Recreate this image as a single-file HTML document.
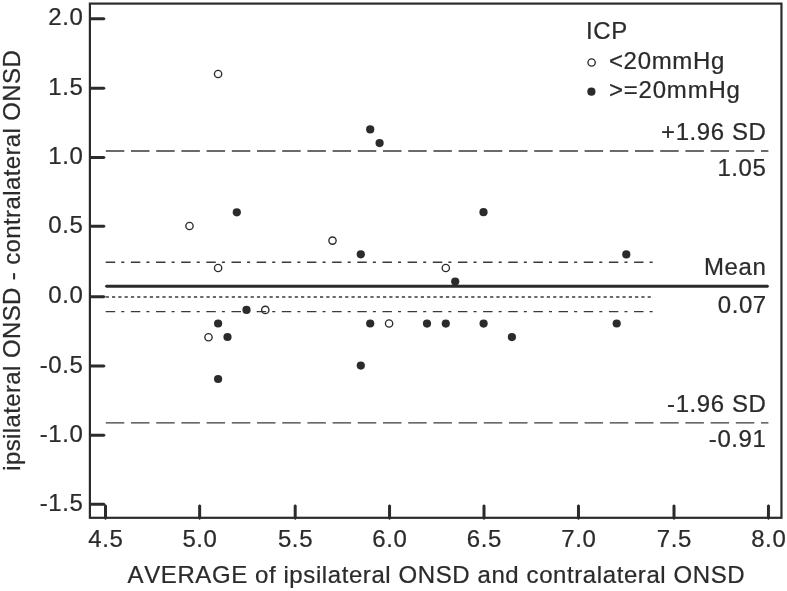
<!DOCTYPE html>
<html lang="en"><head><meta charset="utf-8"><title>Bland-Altman plot</title>
<style>html,body{margin:0;padding:0;background:#fff}body{width:787px;height:591px;overflow:hidden}svg{display:block}text{font-family:"Liberation Sans",Arial,sans-serif;font-size:25px;fill:#2b2b2b;font-kerning:none;letter-spacing:0.62px;stroke:#2b2b2b;stroke-width:0.25px}svg{filter:blur(0.45px)}</style></head><body>
<svg width="787" height="591" viewBox="0 0 787 591">
<rect x="0" y="0" width="787" height="591" fill="#fff"/>
<rect x="89.90" y="3.60" width="691.55" height="514.20" fill="none" stroke="#2b2b2b" stroke-width="2.2"/>
<polygon points="89.90,17.33 104.20,17.33 105.70,18.83 104.20,20.33 89.90,20.33" fill="#2b2b2b"/>
<text transform="translate(83.40 25.33) scale(0.96 0.975)" text-anchor="end">2.0</text>
<polygon points="89.90,86.66 104.20,86.66 105.70,88.16 104.20,89.66 89.90,89.66" fill="#2b2b2b"/>
<text transform="translate(83.40 94.66) scale(0.96 0.975)" text-anchor="end">1.5</text>
<polygon points="89.90,155.94 104.20,155.94 105.70,157.44 104.20,158.94 89.90,158.94" fill="#2b2b2b"/>
<text transform="translate(83.40 163.94) scale(0.96 0.975)" text-anchor="end">1.0</text>
<polygon points="89.90,224.86 104.20,224.86 105.70,226.36 104.20,227.86 89.90,227.86" fill="#2b2b2b"/>
<text transform="translate(83.40 232.86) scale(0.96 0.975)" text-anchor="end">0.5</text>
<polygon points="89.90,295.36 104.20,295.36 105.70,296.86 104.20,298.36 89.90,298.36" fill="#2b2b2b"/>
<text transform="translate(83.40 303.36) scale(0.96 0.975)" text-anchor="end">0.0</text>
<polygon points="89.90,364.59 104.20,364.59 105.70,366.09 104.20,367.59 89.90,367.59" fill="#2b2b2b"/>
<text transform="translate(83.40 372.59) scale(0.96 0.975)" text-anchor="end">-0.5</text>
<polygon points="89.90,433.81 104.20,433.81 105.70,435.31 104.20,436.81 89.90,436.81" fill="#2b2b2b"/>
<text transform="translate(83.40 441.81) scale(0.96 0.975)" text-anchor="end">-1.0</text>
<polygon points="89.90,502.74 104.20,502.74 105.70,504.24 104.20,505.74 89.90,505.74" fill="#2b2b2b"/>
<text transform="translate(83.40 510.74) scale(0.96 0.975)" text-anchor="end">-1.5</text>
<polygon points="104.00,518.60 104.00,505.60 105.50,504.20 107.00,505.60 107.00,518.60 105.50,519.90" fill="#2b2b2b"/>
<text transform="translate(105.80 547.20) scale(0.96 0.975)" text-anchor="middle">4.5</text>
<polygon points="198.15,518.60 198.15,505.60 199.65,504.20 201.15,505.60 201.15,518.60 199.65,519.90" fill="#2b2b2b"/>
<text transform="translate(199.95 547.20) scale(0.96 0.975)" text-anchor="middle">5.0</text>
<polygon points="293.70,518.60 293.70,505.60 295.20,504.20 296.70,505.60 296.70,518.60 295.20,519.90" fill="#2b2b2b"/>
<text transform="translate(295.50 547.20) scale(0.96 0.975)" text-anchor="middle">5.5</text>
<polygon points="388.05,518.60 388.05,505.60 389.55,504.20 391.05,505.60 391.05,518.60 389.55,519.90" fill="#2b2b2b"/>
<text transform="translate(389.85 547.20) scale(0.96 0.975)" text-anchor="middle">6.0</text>
<polygon points="482.50,518.60 482.50,505.60 484.00,504.20 485.50,505.60 485.50,518.60 484.00,519.90" fill="#2b2b2b"/>
<text transform="translate(484.30 547.20) scale(0.96 0.975)" text-anchor="middle">6.5</text>
<polygon points="576.97,518.60 576.97,505.60 578.47,504.20 579.97,505.60 579.97,518.60 578.47,519.90" fill="#2b2b2b"/>
<text transform="translate(578.77 547.20) scale(0.96 0.975)" text-anchor="middle">7.0</text>
<polygon points="672.50,518.60 672.50,505.60 674.00,504.20 675.50,505.60 675.50,518.60 674.00,519.90" fill="#2b2b2b"/>
<text transform="translate(674.30 547.20) scale(0.96 0.975)" text-anchor="middle">7.5</text>
<polygon points="766.95,518.60 766.95,505.60 768.45,504.20 769.95,505.60 769.95,518.60 768.45,519.90" fill="#2b2b2b"/>
<text transform="translate(768.75 547.20) scale(0.96 0.975)" text-anchor="middle">8.0</text>
<line x1="105.80" y1="151.00" x2="768.40" y2="151.00" stroke="#3a3a3a" stroke-width="1.40" stroke-dasharray="18.5 6.7"/>
<line x1="105.80" y1="422.90" x2="768.40" y2="422.90" stroke="#3a3a3a" stroke-width="1.40" stroke-dasharray="18.5 6.7"/>
<polygon points="104.7,286.30 106.2,284.75 767.90,284.75 769.20,286.30 767.90,287.85 106.2,287.85" fill="#2b2b2b"/>
<line x1="105.70" y1="296.90" x2="650.80" y2="296.90" stroke="#3a3a3a" stroke-width="1.50" stroke-dasharray="3.2 3.102"/>
<line x1="105.70" y1="262.20" x2="653.60" y2="262.20" stroke="#3a3a3a" stroke-width="1.40" stroke-dasharray="9.45 6.1 3.05 6.56"/>
<line x1="105.70" y1="311.65" x2="653.60" y2="311.65" stroke="#3a3a3a" stroke-width="1.40" stroke-dasharray="9.45 6.1 3.05 6.56"/>
<circle cx="189.5" cy="226.0" r="3.65" fill="none" stroke="#2b2b2b" stroke-width="1.35"/>
<circle cx="218.1" cy="74.0" r="3.65" fill="none" stroke="#2b2b2b" stroke-width="1.35"/>
<circle cx="218.1" cy="268.0" r="3.65" fill="none" stroke="#2b2b2b" stroke-width="1.35"/>
<circle cx="208.5" cy="337.2" r="3.65" fill="none" stroke="#2b2b2b" stroke-width="1.35"/>
<circle cx="265.3" cy="309.9" r="3.65" fill="none" stroke="#2b2b2b" stroke-width="1.35"/>
<circle cx="332.5" cy="240.6" r="3.65" fill="none" stroke="#2b2b2b" stroke-width="1.35"/>
<circle cx="389.1" cy="323.5" r="3.65" fill="none" stroke="#2b2b2b" stroke-width="1.35"/>
<circle cx="445.8" cy="268.0" r="3.65" fill="none" stroke="#2b2b2b" stroke-width="1.35"/>
<circle cx="236.8" cy="212.3" r="4.1" fill="#2b2b2b"/>
<circle cx="218.1" cy="323.5" r="4.1" fill="#2b2b2b"/>
<circle cx="227.5" cy="337.0" r="4.1" fill="#2b2b2b"/>
<circle cx="218.1" cy="379.0" r="4.1" fill="#2b2b2b"/>
<circle cx="246.5" cy="309.9" r="4.1" fill="#2b2b2b"/>
<circle cx="360.8" cy="254.3" r="4.1" fill="#2b2b2b"/>
<circle cx="370.2" cy="129.4" r="4.1" fill="#2b2b2b"/>
<circle cx="379.6" cy="143.1" r="4.1" fill="#2b2b2b"/>
<circle cx="360.8" cy="365.6" r="4.1" fill="#2b2b2b"/>
<circle cx="370.2" cy="323.5" r="4.1" fill="#2b2b2b"/>
<circle cx="427.0" cy="323.6" r="4.1" fill="#2b2b2b"/>
<circle cx="445.8" cy="323.6" r="4.1" fill="#2b2b2b"/>
<circle cx="455.2" cy="281.5" r="4.1" fill="#2b2b2b"/>
<circle cx="483.5" cy="212.2" r="4.1" fill="#2b2b2b"/>
<circle cx="483.6" cy="323.6" r="4.1" fill="#2b2b2b"/>
<circle cx="511.9" cy="337.1" r="4.1" fill="#2b2b2b"/>
<circle cx="616.7" cy="323.5" r="4.1" fill="#2b2b2b"/>
<circle cx="626.3" cy="254.4" r="4.1" fill="#2b2b2b"/>
<text transform="translate(766.50 140.00) scale(0.96 0.975)" text-anchor="end">+1.96 SD</text>
<text transform="translate(766.50 175.90) scale(0.96 0.975)" text-anchor="end">1.05</text>
<text transform="translate(766.40 275.00) scale(0.96 0.975)" text-anchor="end">Mean</text>
<text transform="translate(766.80 312.80) scale(0.96 0.975)" text-anchor="end">0.07</text>
<text transform="translate(766.50 411.50) scale(0.96 0.975)" text-anchor="end">-1.96 SD</text>
<text transform="translate(766.50 447.20) scale(0.96 0.975)" text-anchor="end">-0.91</text>
<text transform="translate(586.00 39.00) scale(0.96 0.975)" text-anchor="start">ICP</text>
<circle cx="591.6" cy="62.5" r="3.65" fill="none" stroke="#2b2b2b" stroke-width="1.35"/>
<circle cx="591.4" cy="91.7" r="4.1" fill="#2b2b2b"/>
<text transform="translate(608.90 69.00) scale(0.96 0.975)" text-anchor="start" textLength="120.94" lengthAdjust="spacing">&lt;20mmHg</text>
<text transform="translate(608.90 97.60) scale(0.96 0.975)" text-anchor="start" textLength="137.08" lengthAdjust="spacing">&gt;=20mmHg</text>
<text transform="translate(436.40 583.00) scale(0.96 0.975)" text-anchor="middle">AVERAGE of ipsilateral ONSD and contralateral ONSD</text>
<text transform="translate(19.80 260.20) rotate(-90) scale(0.96 0.975)" text-anchor="middle" textLength="438.75" lengthAdjust="spacing">ipsilateral ONSD - contralateral ONSD</text>
</svg></body></html>
